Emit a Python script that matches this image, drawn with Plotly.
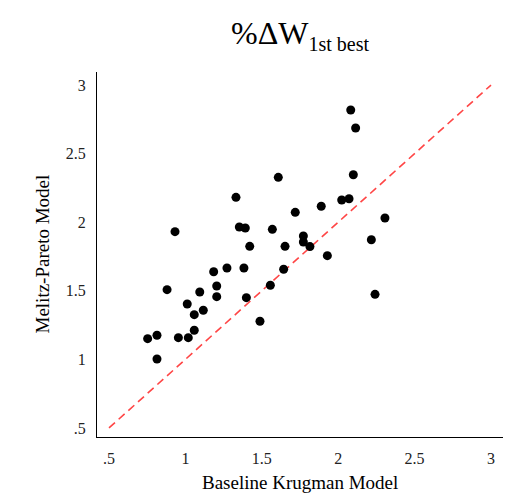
import plotly.graph_objects as go

# Data
krugman = [2.082, 2.114, 1.608, 2.099, 1.331, 2.023, 2.071, 1.889, 1.719, 2.306,
           0.932, 1.353, 1.392, 1.569, 1.772, 1.772, 1.815, 2.217, 1.421, 1.652,
           1.929, 1.185, 1.272, 1.383, 1.643, 0.880, 1.094, 1.205, 1.205, 1.399,
           1.556, 2.241, 1.012, 1.117, 1.058, 1.058, 1.488, 0.753, 0.814, 0.954,
           1.019, 0.814]
melitz = [2.818, 2.687, 2.327, 2.346, 2.181, 2.162, 2.171, 2.116, 2.072, 2.031,
          1.931, 1.965, 1.958, 1.948, 1.899, 1.856, 1.822, 1.872, 1.824, 1.824,
          1.756, 1.639, 1.666, 1.666, 1.657, 1.508, 1.491, 1.535, 1.457, 1.450,
          1.540, 1.474, 1.404, 1.358, 1.326, 1.212, 1.278, 1.151, 1.176, 1.158,
          1.158, 1.003]
line_pts = [0.5, 3]
tick_vals = [0.5, 1, 1.5, 2, 2.5, 3]
tick_text = [".5", "1", "1.5", "2", "2.5", "3"]

FONT = "Liberation Serif, Times New Roman, serif"

fig = go.Figure()
fig.add_trace(go.Scatter(x=line_pts, y=line_pts, mode="lines",
                         line=dict(color="#ff4545", width=1.6, dash="8px,5px"),
                         hoverinfo="skip", showlegend=False))
fig.add_trace(go.Scatter(x=krugman, y=melitz, mode="markers",
                         marker=dict(color="black", size=9),
                         showlegend=False))

axis_common = dict(showgrid=False, zeroline=False, showline=True, linecolor="black",
                   linewidth=1, tickvals=tick_vals, ticktext=tick_text, ticks="",
                   tickfont=dict(family=FONT, size=16, color="#222"))

title_text = "%ΔW<sub><span style='font-size:20px'>1st best</span></sub>"

fig.update_layout(
    width=513, height=487,
    margin=dict(l=89, r=18, t=64, b=58),
    paper_bgcolor="white", plot_bgcolor="white",
    font=dict(family=FONT, color="black"),
    xaxis=dict(range=[0.4215, 3.0785], ticklabelstandoff=7, **axis_common),
    yaxis=dict(range=[0.434, 3.095], ticklabelstandoff=7, **axis_common),
    annotations=[
        dict(text=title_text, xref="paper", yref="paper",
             x=0.5, y=1 + 37/365, xanchor="center", yanchor="middle", showarrow=False,
             font=dict(family=FONT, size=32, color="black")),
        dict(text="Baseline Krugman Model", xref="paper", yref="paper",
             x=0.5, y=-45/365, xanchor="center", yanchor="middle", showarrow=False,
             font=dict(family=FONT, size=19, color="black")),
        dict(text="Melitz-Pareto Model", xref="paper", yref="paper",
             x=-55/406, y=0.5, xanchor="center", yanchor="middle", showarrow=False,
             textangle=-90, font=dict(family=FONT, size=19, color="black")),
    ],
)

fig.write_html("out.html")
